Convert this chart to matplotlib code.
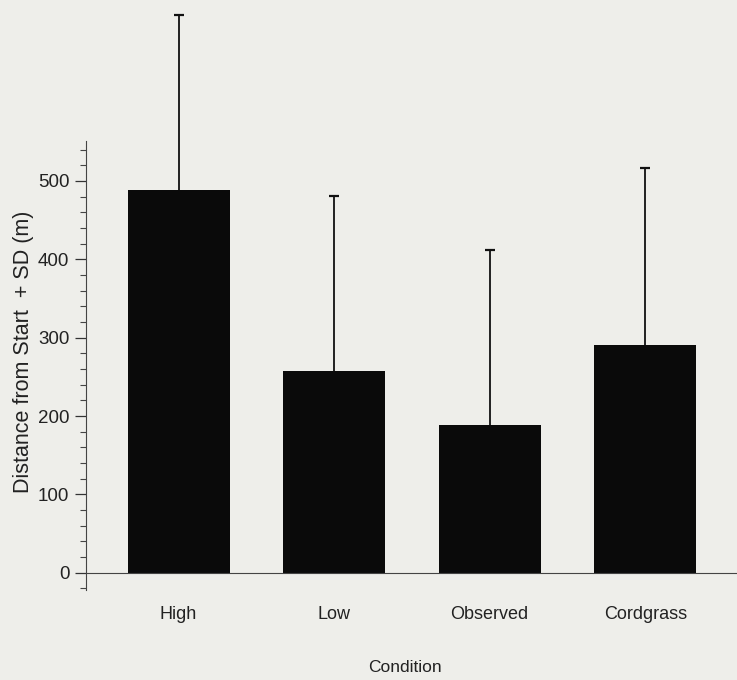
import matplotlib.pyplot as plt
import numpy as np

conditions = ['High', 'Low', 'Observed', 'Cordgrass']
means = [488, 257, 189, 291]
upper = [712, 481, 412, 516]  # mean + SD

plt.rcParams['font.family'] = ['Liberation Sans', 'DejaVu Sans']
bg = '#eeeeea'

fig = plt.figure(figsize=(7.37, 6.80), dpi=100, facecolor=bg)
ax = fig.add_axes([86 / 737, 90 / 680, 651 / 737, 449 / 680], facecolor=bg)

x = np.arange(len(conditions))
ax.bar(x, means, width=0.656, color='#0a0a0a', zorder=2)
# upper SD only: stem plus a cap at the top
ax.vlines(x, means, upper, colors='#111111', linewidth=1.3, clip_on=False, zorder=3)
ax.plot(x, upper, linestyle='none', marker='_', markersize=7, markeredgewidth=1.6,
        color='#111111', clip_on=False, zorder=3)

ax.set_xlim(-0.595, 3.59)
ax.set_ylim(-22, 551)
ax.spines['top'].set_visible(False)
ax.spines['right'].set_visible(False)
ax.spines['bottom'].set_position(('data', 0))
ax.spines['left'].set_color('#444444')
ax.spines['bottom'].set_color('#444444')

ax.set_yticks(np.arange(0, 501, 100))
ax.set_yticks(np.arange(-20, 551, 20), minor=True)
ax.tick_params(axis='y', which='major', length=8, width=0.9, labelsize=13.5, pad=4, colors='#333333')
ax.tick_params(axis='y', which='minor', length=4, width=0.8, colors='#444444')
ax.set_xticks(x)
ax.set_xticklabels(conditions)
ax.tick_params(axis='x', length=0, labelsize=13, pad=24, colors='#222222')
for t in ax.get_yticklabels():
    t.set_color('#222222')

ax.set_ylabel('Distance from Start  + SD (m)', fontsize=15.5, color='#222222')
ax.yaxis.set_label_coords(-0.080, 0.53)
fig.text(405 / 737, 1 - 668 / 680, 'Condition', ha='center', va='center', fontsize=12.5, color='#222222')

fig.savefig('out.png', dpi=100, facecolor=bg)
